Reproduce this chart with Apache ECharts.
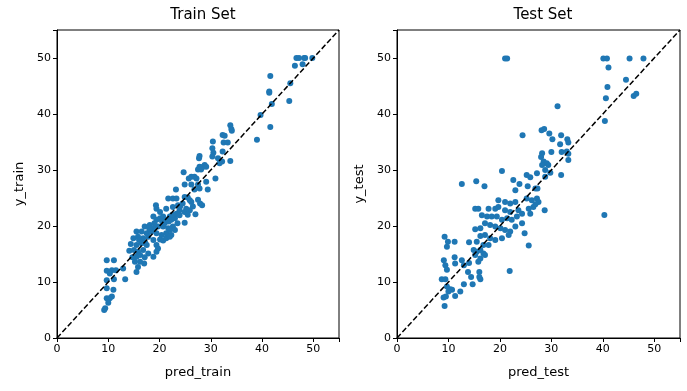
<!DOCTYPE html>
<html>
<head>
<meta charset="utf-8">
<script src="https://cdn.jsdelivr.net/npm/echarts@6/dist/echarts.min.js"></script>
<style>html,body{margin:0;padding:0;background:#fff}#c{width:687px;height:391px}</style>
</head>
<body>
<div id="c"></div>
<script>
var trainPred = [46.7,47.2,48.2,48.4,49.8,46.4,47.9,41.6,41.4,41.4,45.5,45.3,41.9,39.7,41.6,39.0,
33.8,34.0,34.1,32.3,32.7,30.4,32.5,33.3,30.3,30.5,30.3,32.3,31.4,33.8,27.8,27.7,32.2,31.7,
28.8,28.5,29.1,27.8,27.5,28.1,24.7,26.2,26.8,25.7,27.2,30.9,24.9,26.2,27.5,29.1,23.2,26.8,29.4,
27.8,21.7,22.6,23.3,24.9,25.5,25.9,26.2,27.5,27.9,28.3,
19.3,19.4,20.1,21.3,22.6,23.6,23.9,24.9,25.9,25.2,27.0,
18.8,19.4,20.1,20.7,21.3,22.0,22.3,23.0,23.3,23.9,24.9,
17.1,18.1,18.8,19.7,20.7,21.7,22.6,23.0,15.5,16.5,17.5,18.4,19.4,20.4,21.3,22.3,22.0,
14.9,15.8,16.8,17.8,18.8,20.1,20.7,21.3,22.0,
14.4,15.5,16.5,17.5,19.4,19.7,19.4,
14.1,15.0,15.8,16.8,17.8,18.8,16.2,17.1,15.5,14.7,
15.2,16.2,17.0,15.8,15.5,12.9,13.3,
9.7,11.1,9.7,10.7,10.3,11.5,11.1,9.7,
9.7,11.0,9.7,10.3,10.7,10.0,9.2,9.4,
21.0,21.8,22.5,24.0,24.5,20.5,19.0,18.0,16.0,17.2,23.5,25.5,26.5];
var trainY = [50,50,50,50,50,48.6,48.9,46.8,44.0,43.8,45.5,42.3,41.8,39.8,37.7,35.4,
38.0,37.3,37.0,36.25,36.1,35.1,34.9,34.9,33.9,33.1,32.4,33.3,32.1,31.6,32.5,32.1,31.5,31.2,
30.9,30.6,30.6,30.6,30.1,30.1,29.6,28.8,28.8,28.5,28.5,28.5,27.4,27.4,27.4,27.9,26.5,26.5,26.5,
26.7,24.9,24.9,24.9,25.2,25.1,24.6,24.3,24.7,24.0,23.7,
23.7,23.1,22.5,23.1,23.4,23.7,22.8,22.5,22.8,23.1,22.1,
21.7,21.1,21.4,21.7,21.1,21.7,21.1,21.4,22.2,21.9,20.6,
19.9,20.2,19.6,19.9,19.9,19.6,19.9,19.3,19.0,19.0,18.7,19.0,18.7,18.4,18.7,18.4,19.3,
17.8,18.1,17.8,18.1,17.5,17.6,17.4,17.8,18.1,
16.8,16.6,16.9,16.6,16.6,16.0,15.4,
15.6,15.7,15.4,15.7,15.1,14.5,14.8,14.4,14.5,14.4,
13.6,13.6,13.3,12.7,11.8,12.4,10.5,
13.9,13.9,12.0,12.1,11.5,12.1,10.5,10.3,
8.9,8.6,7.1,7.1,7.4,6.3,5.0,5.3,
20.5,20.8,22.0,23.5,24.0,20.8,20.5,19.5,17.5,17.0,20.5,22.0,23.5];

var testPred = [21.0,21.4,40.1,40.8,45.2,47.9,41.1,44.5,40.9,40.6,46.0,46.5,31.2,40.4,
28.1,28.6,29.6,24.4,30.2,31.9,33.1,33.3,31.7,28.2,28.0,30.0,32.0,33.0,33.3,33.3,
28.5,29.1,29.4,28.2,28.8,29.8,28.8,20.4,31.9,25.2,25.9,27.2,
22.6,23.8,25.4,26.9,27.3,12.6,15.4,17.0,23.0,
40.3,28.7,19.7,21.0,22.0,23.0,25.2,26.2,27.2,27.5,26.5,25.6,26.9,
15.2,15.8,17.8,19.1,19.7,21.0,22.0,23.6,24.3,25.9,
16.5,17.5,18.4,19.4,20.4,21.4,22.3,23.3,24.3,
15.2,16.2,17.1,18.1,19.1,20.1,21.0,22.0,23.0,
24.8,21.7,19.1,18.1,17.1,16.2,20.4,
9.25,9.9,9.7,11.2,14.0,15.5,16.8,25.6,17.8,
14.9,15.5,16.2,16.8,15.2,16.2,15.8,17.1,
9.1,9.4,9.7,11.2,11.3,12.6,13.0,14.0,13.8,14.4,16.0,16.2,16.0,
21.9,8.7,9.4,9.7,10.35,10.7,10.0,11.3,12.3,13.0,14.7,
9.05,9.5,9.25];
var testY = [49.9,49.9,49.9,49.9,49.9,49.9,48.3,46.1,44.8,42.8,43.2,43.6,41.4,38.75,
37.1,37.3,36.5,36.2,35.5,36.2,35.5,34.9,34.6,33.0,32.3,33.2,33.2,33.3,32.9,31.8,
31.5,31.2,30.9,30.9,30.0,29.5,28.8,29.8,29.1,29.1,28.7,29.4,
28.2,27.5,27.1,26.7,26.7,27.5,28.0,27.1,26.4,
21.95,22.8,24.6,24.3,24.0,24.3,24.9,24.6,24.9,24.3,23.4,23.1,23.9,
23.1,23.1,23.1,23.1,23.4,22.8,22.5,22.8,22.2,22.2,
21.9,21.7,21.7,21.7,21.1,21.4,21.1,21.7,20.5,
19.4,19.6,20.5,20.2,19.9,19.6,19.3,19.0,19.9,
18.7,18.4,17.5,17.8,18.4,18.2,17.8,
18.1,17.2,16.3,17.2,17.1,17.2,16.6,16.5,16.6,
15.7,15.4,15.7,15.1,14.8,14.2,13.6,14.8,
13.9,13.0,12.2,14.4,13.3,13.9,13.0,13.4,11.8,10.9,11.8,10.5,10.9,
11.95,10.5,10.5,9.2,8.7,8.6,8.3,7.5,8.3,9.6,9.6,
7.25,7.4,5.7];

var diag = [0, 55];
var xTicks = [0, 10, 20, 30, 40, 50];
var yTicks = [0, 10, 20, 30, 40, 50];

function zip(a, b) { return a.map(function (v, i) { return [v, b[i]]; }); }

var font = 'DejaVu Sans';
function xAxis(idx, name) {
  return {
    type: 'value', gridIndex: idx, min: 0, max: 55, interval: 10,
    name: name, nameLocation: 'middle', nameGap: 28,
    nameTextStyle: { fontFamily: font, fontSize: 13, color: '#000' },
    axisLine: { show: true, onZero: false, lineStyle: { color: '#000', width: 1 } },
    axisTick: { show: true, length: 4, lineStyle: { color: '#000' } },
    axisLabel: { fontFamily: font, fontSize: 11, color: '#000', margin: 6,
      formatter: function (v) { return xTicks.indexOf(v) >= 0 ? String(v) : ''; } },
    splitLine: { show: false }
  };
}
function yAxis(idx, name) {
  return {
    type: 'value', gridIndex: idx, min: 0, max: 55, interval: 10,
    name: name, nameLocation: 'middle', nameGap: 31, nameRotate: 90,
    nameTextStyle: { fontFamily: font, fontSize: 13, color: '#000' },
    axisLine: { show: true, onZero: false, lineStyle: { color: '#000', width: 1 } },
    axisTick: { show: true, length: 4, lineStyle: { color: '#000' } },
    axisLabel: { fontFamily: font, fontSize: 11, color: '#000', margin: 6,
      formatter: function (v) { return yTicks.indexOf(v) >= 0 ? String(v) : ''; } },
    splitLine: { show: false }
  };
}
function scatter(idx, data) {
  return { type: 'scatter', xAxisIndex: idx, yAxisIndex: idx, data: data,
    symbolSize: 6, itemStyle: { color: '#1f77b4', opacity: 1 }, z: 2, animation: false };
}
function line(idx) {
  return { type: 'line', xAxisIndex: idx, yAxisIndex: idx, data: zip(diag, diag),
    showSymbol: false, symbol: 'none', z: 3, animation: false,
    lineStyle: { color: '#000', width: 1.5, type: [5.5, 2.5] } };
}

var chart = echarts.init(document.getElementById('c'), null, { renderer: 'canvas' });
chart.setOption({
  backgroundColor: '#fff',
  animation: false,
  title: [
    { text: 'Train Set', left: 198, top: 3, textAlign: 'center',
      textStyle: { fontFamily: font, fontSize: 15, fontWeight: 'normal', color: '#000' } },
    { text: 'Test Set', left: 538, top: 3, textAlign: 'center',
      textStyle: { fontFamily: font, fontSize: 15, fontWeight: 'normal', color: '#000' } }
  ],
  grid: [
    { left: 57, top: 30, width: 282, height: 308, show: true, borderColor: '#000', borderWidth: 1, backgroundColor: 'transparent' },
    { left: 397, top: 30, width: 283, height: 308, show: true, borderColor: '#000', borderWidth: 1, backgroundColor: 'transparent' }
  ],
  xAxis: [xAxis(0, 'pred_train'), xAxis(1, 'pred_test')],
  yAxis: [yAxis(0, 'y_train'), yAxis(1, 'y_test')],
  series: [
    scatter(0, zip(trainPred, trainY)), line(0),
    scatter(1, zip(testPred, testY)), line(1)
  ]
});
</script>
</body>
</html>
